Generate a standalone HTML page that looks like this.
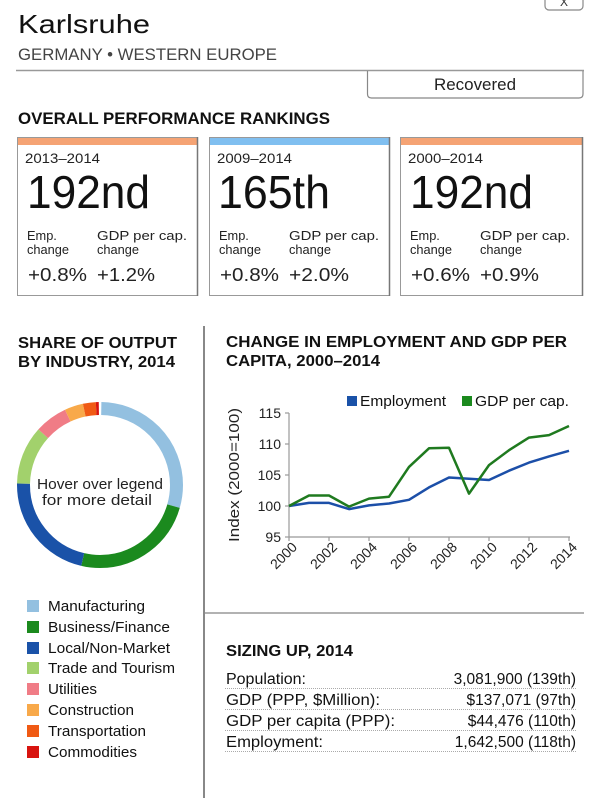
<!DOCTYPE html>
<html><head><meta charset="utf-8"><style>
html,body{margin:0;padding:0;background:#fff;}
svg{display:block;font-family:"Liberation Sans",Arial,sans-serif;}
</style></head><body>
<svg width="600" height="798" viewBox="0 0 600 798" xmlns="http://www.w3.org/2000/svg">
<rect width="600" height="798" fill="#fff"/>
<!-- close button -->
<rect x="545" y="-6" width="38" height="16" rx="4" fill="#fff" stroke="#888" stroke-width="1.2"/>
<text x="564" y="6" font-size="12" text-anchor="middle" fill="#333">X</text>
<!-- title -->
<text x="18" y="33" font-size="26" fill="#111" textLength="132" lengthAdjust="spacingAndGlyphs">Karlsruhe</text>
<text x="18" y="60" font-size="16.5" fill="#444" textLength="259" lengthAdjust="spacingAndGlyphs">GERMANY • WESTERN EUROPE</text>
<line x1="16" y1="70.5" x2="584" y2="70.5" stroke="#999" stroke-width="1.5"/>
<path d="M367.5 71 V94 Q367.5 98 371.5 98 H579 Q583 98 583 94 V71" fill="none" stroke="#888" stroke-width="1.2"/>
<text x="475" y="90" font-size="16.5" text-anchor="middle" fill="#222" textLength="82" lengthAdjust="spacingAndGlyphs">Recovered</text>
<text x="18" y="124" font-size="16.5" font-weight="bold" fill="#111" textLength="312" lengthAdjust="spacingAndGlyphs">OVERALL PERFORMANCE RANKINGS</text>

<!-- cards -->
<g>
<rect x="17" y="137" width="181" height="8" fill="#f5a374"/>
<rect x="17.5" y="137.5" width="180" height="158" fill="none" stroke="#999" stroke-width="1"/>
<line x1="197.5" y1="137" x2="197.5" y2="296" stroke="#777" stroke-width="1.5"/>
<text x="25" y="163" font-size="14" fill="#222" textLength="75" lengthAdjust="spacingAndGlyphs">2013–2014</text>
<text x="27" y="208" font-size="46" fill="#111" textLength="123" lengthAdjust="spacingAndGlyphs">192nd</text>
<text x="27" y="240" font-size="12.8" fill="#222">Emp.</text>
<text x="27" y="254" font-size="12.8" fill="#222">change</text>
<text x="97" y="240" font-size="12.8" fill="#222" textLength="90" lengthAdjust="spacingAndGlyphs">GDP per cap.</text>
<text x="97" y="254" font-size="12.8" fill="#222">change</text>
<text x="28" y="281" font-size="18.5" fill="#222" textLength="59" lengthAdjust="spacingAndGlyphs">+0.8%</text>
<text x="97" y="281" font-size="18.5" fill="#222" textLength="58" lengthAdjust="spacingAndGlyphs">+1.2%</text>
</g>
<g transform="translate(192,0)">
<rect x="17" y="137" width="181" height="8" fill="#80bff0"/>
<rect x="17.5" y="137.5" width="180" height="158" fill="none" stroke="#999" stroke-width="1"/>
<line x1="197.5" y1="137" x2="197.5" y2="296" stroke="#777" stroke-width="1.5"/>
<text x="25" y="163" font-size="14" fill="#222" textLength="75" lengthAdjust="spacingAndGlyphs">2009–2014</text>
<text x="26" y="208" font-size="46" fill="#111" textLength="112" lengthAdjust="spacingAndGlyphs">165th</text>
<text x="27" y="240" font-size="12.8" fill="#222">Emp.</text>
<text x="27" y="254" font-size="12.8" fill="#222">change</text>
<text x="97" y="240" font-size="12.8" fill="#222" textLength="90" lengthAdjust="spacingAndGlyphs">GDP per cap.</text>
<text x="97" y="254" font-size="12.8" fill="#222">change</text>
<text x="28" y="281" font-size="18.5" fill="#222" textLength="59" lengthAdjust="spacingAndGlyphs">+0.8%</text>
<text x="97" y="281" font-size="18.5" fill="#222" textLength="60" lengthAdjust="spacingAndGlyphs">+2.0%</text>
</g>
<g transform="translate(383,0)">
<rect x="17" y="137" width="183" height="8" fill="#f5a374"/>
<rect x="17.5" y="137.5" width="182" height="158" fill="none" stroke="#999" stroke-width="1"/>
<line x1="199.5" y1="137" x2="199.5" y2="296" stroke="#777" stroke-width="1.5"/>
<text x="25" y="163" font-size="14" fill="#222" textLength="75" lengthAdjust="spacingAndGlyphs">2000–2014</text>
<text x="27" y="208" font-size="46" fill="#111" textLength="123" lengthAdjust="spacingAndGlyphs">192nd</text>
<text x="27" y="240" font-size="12.8" fill="#222">Emp.</text>
<text x="27" y="254" font-size="12.8" fill="#222">change</text>
<text x="97" y="240" font-size="12.8" fill="#222" textLength="90" lengthAdjust="spacingAndGlyphs">GDP per cap.</text>
<text x="97" y="254" font-size="12.8" fill="#222">change</text>
<text x="28" y="281" font-size="18.5" fill="#222" textLength="59" lengthAdjust="spacingAndGlyphs">+0.6%</text>
<text x="97" y="281" font-size="18.5" fill="#222" textLength="59" lengthAdjust="spacingAndGlyphs">+0.9%</text>
</g>

<!-- dividers -->
<line x1="204" y1="326" x2="204" y2="798" stroke="#888" stroke-width="2"/>
<line x1="205" y1="613" x2="584" y2="613" stroke="#999" stroke-width="1.5"/>

<!-- share of output -->
<text x="18" y="348" font-size="16" font-weight="bold" fill="#111" textLength="159" lengthAdjust="spacingAndGlyphs">SHARE OF OUTPUT</text>
<text x="18" y="367" font-size="16" font-weight="bold" fill="#111" textLength="157" lengthAdjust="spacingAndGlyphs">BY INDUSTRY, 2014</text>

<g transform="rotate(-90 100 485)" fill="none" stroke-width="13">
<circle cx="100" cy="485" r="76.5" stroke="#93c0e0" stroke-dasharray="140.2 480.66" stroke-dashoffset="-1.3"/>
<circle cx="100" cy="485" r="76.5" stroke="#1b8a1e" stroke-dasharray="116.2 480.66" stroke-dashoffset="-141.5"/>
<circle cx="100" cy="485" r="76.5" stroke="#1a52a8" stroke-dasharray="104.1 480.66" stroke-dashoffset="-257.7"/>
<circle cx="100" cy="485" r="76.5" stroke="#a2d16c" stroke-dasharray="54.7 480.66" stroke-dashoffset="-361.8"/>
<circle cx="100" cy="485" r="76.5" stroke="#f07c86" stroke-dasharray="30.7 480.66" stroke-dashoffset="-416.5"/>
<circle cx="100" cy="485" r="76.5" stroke="#f8a94a" stroke-dasharray="17.4 480.66" stroke-dashoffset="-447.2"/>
<circle cx="100" cy="485" r="76.5" stroke="#f05a14" stroke-dasharray="12.0 480.66" stroke-dashoffset="-464.6"/>
<circle cx="100" cy="485" r="76.5" stroke="#d8140f" stroke-dasharray="2.7 480.66" stroke-dashoffset="-476.6"/>
</g>
<text x="100" y="489" font-size="15" text-anchor="middle" fill="#222" textLength="126" lengthAdjust="spacingAndGlyphs">Hover over legend</text>
<text x="97" y="505" font-size="15" text-anchor="middle" fill="#222" textLength="110" lengthAdjust="spacingAndGlyphs">for more detail</text>

<!-- legend -->
<g font-size="15" fill="#111">
<rect x="27" y="600" width="12" height="12" fill="#93c0e0"/><text x="48" y="611" textLength="97" lengthAdjust="spacingAndGlyphs">Manufacturing</text>
<rect x="27" y="621" width="12" height="12" fill="#1b8a1e"/><text x="48" y="632" textLength="122" lengthAdjust="spacingAndGlyphs">Business/Finance</text>
<rect x="27" y="642" width="12" height="12" fill="#1a52a8"/><text x="48" y="653" textLength="122" lengthAdjust="spacingAndGlyphs">Local/Non-Market</text>
<rect x="27" y="662" width="12" height="12" fill="#a2d16c"/><text x="48" y="673" textLength="127" lengthAdjust="spacingAndGlyphs">Trade and Tourism</text>
<rect x="27" y="683" width="12" height="12" fill="#f07c86"/><text x="48" y="694" textLength="49" lengthAdjust="spacingAndGlyphs">Utilities</text>
<rect x="27" y="704" width="12" height="12" fill="#f8a94a"/><text x="48" y="715" textLength="86" lengthAdjust="spacingAndGlyphs">Construction</text>
<rect x="27" y="725" width="12" height="12" fill="#f05a14"/><text x="48" y="736" textLength="98" lengthAdjust="spacingAndGlyphs">Transportation</text>
<rect x="27" y="746" width="12" height="12" fill="#d8140f"/><text x="48" y="757" textLength="89" lengthAdjust="spacingAndGlyphs">Commodities</text>
</g>

<!-- line chart -->
<text x="226" y="347" font-size="16" font-weight="bold" fill="#111" textLength="341" lengthAdjust="spacingAndGlyphs">CHANGE IN EMPLOYMENT AND GDP PER</text>
<text x="226" y="366" font-size="16" font-weight="bold" fill="#111" textLength="154" lengthAdjust="spacingAndGlyphs">CAPITA, 2000–2014</text>

<rect x="347" y="396" width="10" height="10" fill="#1a52a8"/>
<text x="360" y="406" font-size="15" fill="#111" textLength="86" lengthAdjust="spacingAndGlyphs">Employment</text>
<rect x="462" y="396" width="10" height="10" fill="#1b8a1e"/>
<text x="475" y="406" font-size="15" fill="#111" textLength="94" lengthAdjust="spacingAndGlyphs">GDP per cap.</text>

<g stroke="#999" stroke-width="1.2" fill="none">
<line x1="289" y1="413" x2="289" y2="537"/>
<line x1="289" y1="537" x2="570" y2="537"/>
<line x1="285" y1="413" x2="289" y2="413"/>
<line x1="285" y1="444" x2="289" y2="444"/>
<line x1="285" y1="475" x2="289" y2="475"/>
<line x1="285" y1="506" x2="289" y2="506"/>
<line x1="285" y1="537" x2="289" y2="537"/>
<line x1="289" y1="537" x2="289" y2="541"/>
<line x1="329" y1="537" x2="329" y2="541"/>
<line x1="369" y1="537" x2="369" y2="541"/>
<line x1="409" y1="537" x2="409" y2="541"/>
<line x1="449" y1="537" x2="449" y2="541"/>
<line x1="489" y1="537" x2="489" y2="541"/>
<line x1="529" y1="537" x2="529" y2="541"/>
<line x1="569" y1="537" x2="569" y2="541"/>
</g>
<g font-size="14" fill="#222" text-anchor="end">
<text x="281" y="418">115</text>
<text x="281" y="449">110</text>
<text x="281" y="480">105</text>
<text x="281" y="511">100</text>
<text x="281" y="542">95</text>
</g>
<g font-size="14" fill="#222" text-anchor="end">
<text transform="translate(298 548) rotate(-45)">2000</text>
<text transform="translate(338 548) rotate(-45)">2002</text>
<text transform="translate(378 548) rotate(-45)">2004</text>
<text transform="translate(418 548) rotate(-45)">2006</text>
<text transform="translate(458 548) rotate(-45)">2008</text>
<text transform="translate(498 548) rotate(-45)">2010</text>
<text transform="translate(538 548) rotate(-45)">2012</text>
<text transform="translate(578 548) rotate(-45)">2014</text>
</g>
<text transform="translate(239 475) rotate(-90)" font-size="15" text-anchor="middle" fill="#222" textLength="134" lengthAdjust="spacingAndGlyphs">Index (2000=100)</text>

<polyline fill="none" stroke="#1c4fa8" stroke-width="2.5" stroke-linejoin="round"
points="289,506 309,502.9 329,502.9 349,509.1 369,505.4 389,503.5 409,499.8 429,487.4 449,477.5 469,478.7 489,480 509,470.7 529,462.6 549,456.4 569,450.8"/>
<polyline fill="none" stroke="#1f7a1f" stroke-width="2.5" stroke-linejoin="round"
points="289,506 309,495.5 329,495.5 349,506.6 369,498.6 389,496.7 409,466.9 429,448.3 449,447.7 469,493.6 489,465.1 509,450.2 529,437.6 549,435.1 569,426"/>

<!-- sizing up -->
<text x="226" y="656" font-size="15.5" font-weight="bold" fill="#111" textLength="127" lengthAdjust="spacingAndGlyphs">SIZING UP, 2014</text>
<g stroke="#aaa" stroke-width="1" stroke-dasharray="1 1">
<line x1="225" y1="688.5" x2="577" y2="688.5"/>
<line x1="225" y1="709.5" x2="577" y2="709.5"/>
<line x1="225" y1="730.5" x2="577" y2="730.5"/>
<line x1="225" y1="751.5" x2="577" y2="751.5"/>
</g>
<g font-size="15.5" fill="#111">
<text x="226" y="684" textLength="80" lengthAdjust="spacingAndGlyphs">Population:</text>
<text x="226" y="705" textLength="154" lengthAdjust="spacingAndGlyphs">GDP (PPP, $Million):</text>
<text x="226" y="726" textLength="169" lengthAdjust="spacingAndGlyphs">GDP per capita (PPP):</text>
<text x="226" y="747" textLength="97" lengthAdjust="spacingAndGlyphs">Employment:</text>
</g>
<g font-size="15.5" fill="#111" text-anchor="end">
<text x="576" y="684">3,081,900 (139th)</text>
<text x="576" y="705">$137,071 (97th)</text>
<text x="576" y="726">$44,476 (110th)</text>
<text x="576" y="747">1,642,500 (118th)</text>
</g>
</svg>
</body></html>
